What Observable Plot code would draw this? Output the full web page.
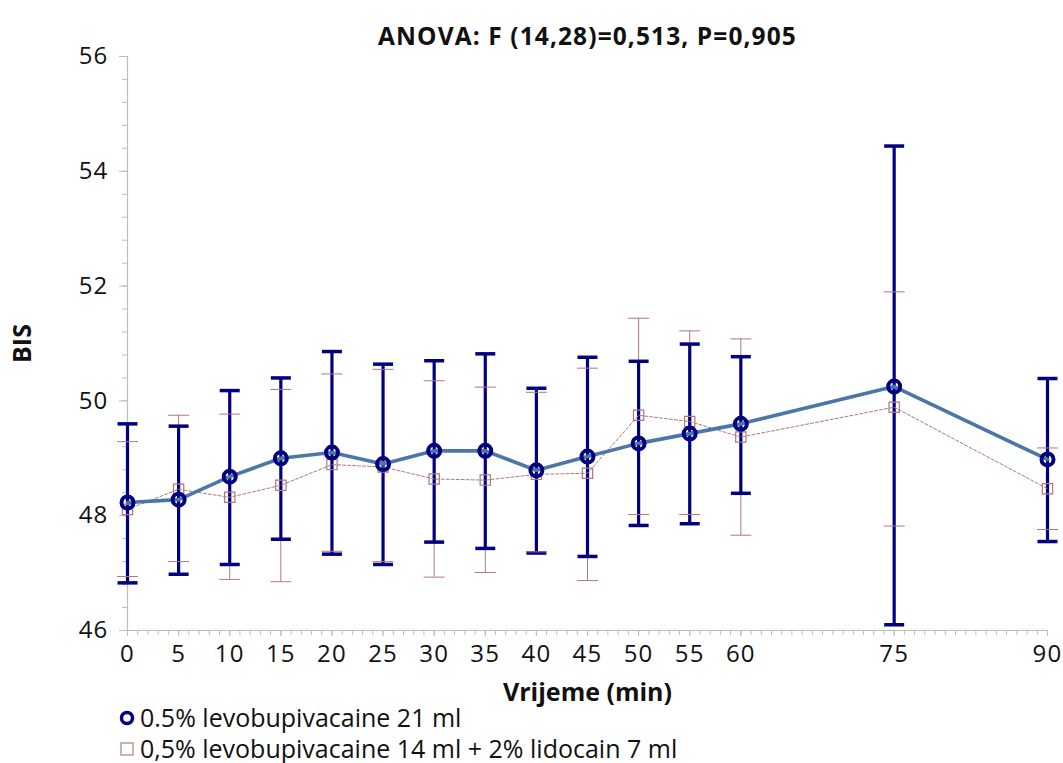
<!DOCTYPE html>
<html>
<head>
<meta charset="utf-8">
<script src="https://cdn.jsdelivr.net/npm/d3@7"></script>
<script src="https://cdn.jsdelivr.net/npm/@observablehq/plot@0.6"></script>
<style>
  body { margin: 0; background: #fff; font-family: "Open Sans", sans-serif; }
  #wrap { position: relative; width: 1063px; height: 763px; }
  #chart { position: absolute; left: 0; top: 0; }
  .legend { position: absolute; left: 117px; font-size: 25px; color: #111; display: flex; align-items: center; line-height: 29px; height: 29px; }
  .legend svg { margin-right: 3px; }
</style>
</head>
<body>
<div id="wrap">
  <div id="chart"></div>
  <div class="legend" style="top:703px;"><svg width="20" height="20"><circle cx="10" cy="10" r="5.5" fill="none" stroke="#000080" stroke-width="3.5"/></svg>0.5% levobupivacaine 21 ml</div>
  <div class="legend" style="top:734px;"><svg width="20" height="20"><rect x="4" y="4" width="12" height="12" fill="none" stroke="#b08080" stroke-width="1.2"/></svg>0,5% levobupivacaine 14 ml + 2% lidocain 7 ml</div>
</div>
<script>
const times = [0, 5, 10, 15, 20, 25, 30, 35, 40, 45, 50, 55, 60, 75, 90];
const levoMean  = [48.23, 48.28, 48.68, 49.00, 49.10, 48.90, 49.13, 49.13, 48.79, 49.03, 49.26, 49.43, 49.60, 50.25, 48.98];
const levoUpper = [49.60, 49.56, 50.18, 50.40, 50.86, 50.64, 50.70, 50.82, 50.22, 50.76, 50.69, 50.99, 50.77, 54.44, 50.39];
const levoLower = [46.83, 46.98, 47.15, 47.59, 47.33, 47.15, 47.54, 47.43, 47.35, 47.29, 47.83, 47.86, 48.39, 46.10, 47.55];
const mixMean   = [48.11, 48.46, 48.32, 48.53, 48.89, 48.85, 48.64, 48.62, 48.72, 48.74, 49.75, 49.64, 49.37, 49.89, 48.47];
const mixUpper  = [49.29, 49.75, 49.77, 50.20, 50.47, 50.55, 50.35, 50.24, 50.15, 50.57, 51.44, 51.22, 51.08, 51.90, 49.18];
const mixLower  = [46.94, 47.20, 46.89, 46.85, 47.38, 47.20, 46.93, 47.01, 47.37, 46.87, 48.02, 48.02, 47.66, 47.82, 47.76];
const xTickLabels = [0, 5, 10, 15, 20, 25, 30, 35, 40, 45, 50, 55, 60, 75, 90];
const yTickLabels = [46, 48, 50, 52, 54, 56];
const titleText = "ANOVA: F (14,28)=0,513, P=0,905";

const levo = times.map((t, i) => ({t, m: levoMean[i], hi: levoUpper[i], lo: levoLower[i]}));
const mix = times.map((t, i) => ({t, m: mixMean[i], hi: mixUpper[i], lo: mixLower[i]}));
const caps = (data) => data.flatMap(d => [{t: d.t, v: d.hi}, {t: d.t, v: d.lo}]);

const hline = { draw(context, size) { const r = Math.sqrt(size / Math.PI); context.moveTo(-r, 0); context.lineTo(r, 0); } };

const navy = "#000080", blueLine = "#4a77a8", rose = "#b07878", axisGray = "#bdbdbd";

const chart = Plot.plot({
  width: 1063,
  height: 720,
  marginLeft: 127,
  marginRight: 16,
  marginTop: 56,
  marginBottom: 90,
  style: { fontFamily: "'Open Sans', sans-serif", fontSize: "24px", color: "#111", background: "#fff", overflow: "visible" },
  x: { domain: [0, 90] },
  y: { domain: [46, 56] },
  marks: [
    Plot.ruleX([0], { stroke: axisGray, strokeWidth: 1.2 }),
    Plot.ruleY([46], { stroke: axisGray, strokeWidth: 1.2 }),
    Plot.axisX({ ticks: d3.range(0, 91, 1), tickSize: 5, tickFormat: () => "", stroke: axisGray, label: null }),
    Plot.axisX({ ticks: xTickLabels, tickSize: 6, tickPadding: 8, stroke: axisGray, label: "Vrijeme (min)", labelAnchor: "center", labelArrow: "none", labelOffset: 70 }),
    Plot.axisY({ ticks: d3.range(46, 56.01, 0.4), tickSize: 5, tickFormat: () => "", stroke: axisGray, label: null }),
    Plot.axisY({ ticks: yTickLabels, tickSize: 8, tickPadding: 11, stroke: axisGray, label: "BIS", labelAnchor: "center", labelArrow: "none", labelOffset: 114 }),
    // rose error bar stems (behind)
    Plot.ruleX(mix, { x: "t", y1: "lo", y2: "hi", stroke: rose, strokeWidth: 1 }),
    // navy error bars
    Plot.ruleX(levo, { x: "t", y1: "lo", y2: "hi", stroke: navy, strokeWidth: 3.2 }),
    Plot.dot(caps(levo), { x: "t", y: "v", symbol: hline, r: 10, stroke: navy, strokeWidth: 3.5 }),
    // rose caps
    Plot.dot(caps(mix), { x: "t", y: "v", symbol: hline, r: 10.5, stroke: rose, strokeWidth: 1 }),
    // rose line + squares
    Plot.line(mix, { x: "t", y: "m", stroke: rose, strokeWidth: 1, strokeDasharray: "3,2" }),
    Plot.dot(mix, { x: "t", y: "m", symbol: "square", r: 5.8, stroke: rose, strokeWidth: 1.2, fill: "none" }),
    // blue line + navy rings
    Plot.line(levo, { x: "t", y: "m", stroke: blueLine, strokeWidth: 3.6 }),
    Plot.dot(levo, { x: "t", y: "m", r: 6, stroke: navy, strokeWidth: 4, fill: "none" }),
    Plot.text([titleText], { frameAnchor: "top", dy: -29, fontWeight: "bold", fontSize: 24.5, fill: "#111" })
  ]
});
chart.querySelectorAll("text").forEach(t => {
  const s = t.textContent;
  if (/^\d+$/.test(s)) {
    t.setAttribute("font-size", "24");
    t.style.fontSize = "24px";
    t.style.letterSpacing = "1.2px";
  } else if (s === "Vrijeme (min)" || s === "BIS") {
    t.setAttribute("font-weight", "bold");
    t.style.fontWeight = "bold";
    t.style.fontSize = "25px";
  } else if (s === titleText) {
    t.style.fontSize = "24.5px";
    t.style.letterSpacing = "1.1px";
  }
});
document.getElementById("chart").appendChild(chart);
</script>
</body>
</html>
